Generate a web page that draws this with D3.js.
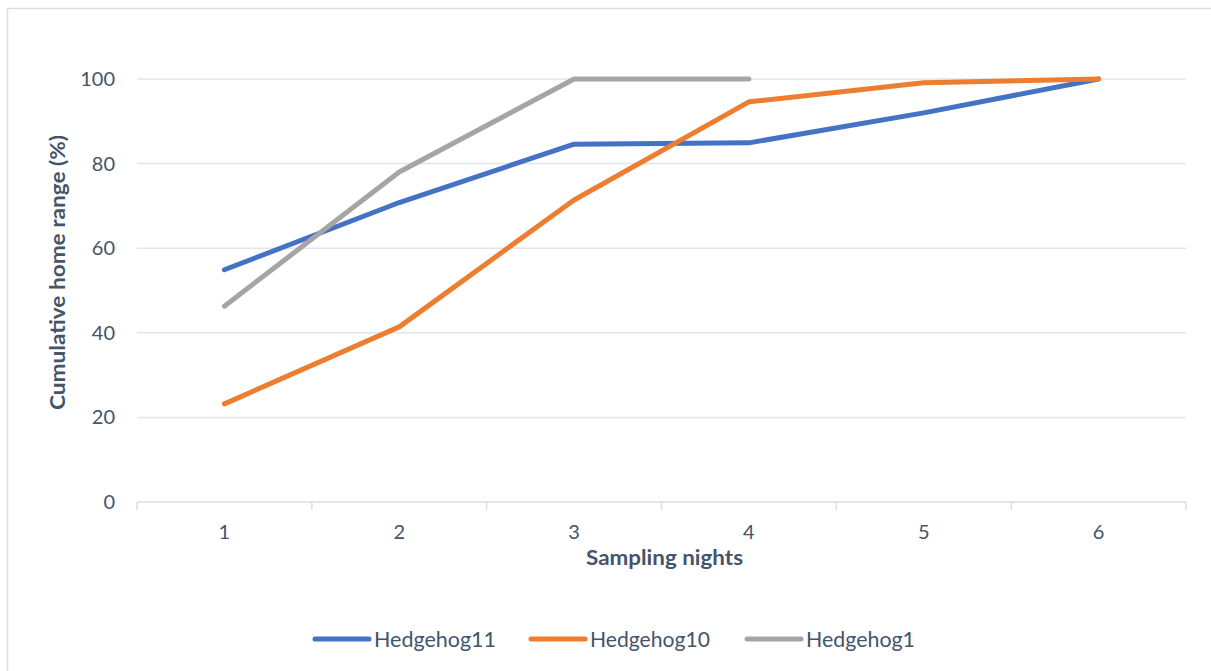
<!DOCTYPE html>
<html>
<head>
<meta charset="utf-8">
<script src="https://cdn.jsdelivr.net/npm/d3@7/dist/d3.min.js"></script>
<style>
  html, body { margin: 0; padding: 0; background: #fff; }
  svg { display: block; }
  text { font-family: Lato, "Open Sans", sans-serif; fill: #44546A; }
</style>
</head>
<body>
<svg id="chart" width="1211" height="671"></svg>
<script>
// Cumulative home range per sampling night
const nights = [1, 2, 3, 4, 5, 6];
const hedgehog11 = [54.9, 70.8, 84.6, 84.9, 92.0, 100];
const hedgehog10 = [23.2, 41.4, 71.4, 94.6, 99.1, 100];
const hedgehog1 = [46.3, 78.0, 100, 100];
const yTicks = [0, 20, 40, 60, 80, 100];

const series = [
  { name: "Hedgehog11", values: hedgehog11, color: "#4472C4" },
  { name: "Hedgehog10", values: hedgehog10, color: "#ED7D31" },
  { name: "Hedgehog1", values: hedgehog1, color: "#A5A5A5" }
];

const svg = d3.select("#chart");
const W = 1211, H = 671;
const plot = { left: 137, right: 1186, top: 37, bottom: 502 };

// outer frame
svg.append("rect")
  .attr("x", 7.5).attr("y", 8.5)
  .attr("width", W + 10).attr("height", H + 10)
  .attr("fill", "none").attr("stroke", "#D9DEE5").attr("stroke-width", 1.5);

const x = d3.scaleBand().domain(nights).range([plot.left, plot.right]).padding(0);
const y = d3.scaleLinear().domain([0, 110]).range([plot.bottom, plot.bottom - 423 * 1.1]);

// horizontal gridlines
svg.append("g").selectAll("line")
  .data(yTicks.filter(d => d > 0))
  .join("line")
  .attr("x1", plot.left).attr("x2", plot.right)
  .attr("y1", d => y(d)).attr("y2", d => y(d))
  .attr("stroke", "#E1E5EA").attr("stroke-width", 1.5);

// y axis labels
const yAxis = d3.axisLeft(y).tickValues(yTicks).tickSize(0).tickPadding(22);
const gy = svg.append("g").attr("transform", `translate(${plot.left},0)`).call(yAxis);
gy.select(".domain").remove();
gy.selectAll("text").style("font-size", "20px").attr("fill", "#44546A")
  .style("font-family", "Lato, sans-serif");

// x axis
const xAxis = d3.axisBottom(x).tickSize(0).tickPadding(23);
const gx = svg.append("g").attr("transform", `translate(0,${plot.bottom})`).call(xAxis);
gx.select(".domain").attr("stroke", "#D9DEE5").attr("stroke-width", 1.5)
  .attr("d", `M${plot.left},0H${plot.right}`);
gx.selectAll("text").style("font-size", "20px").attr("fill", "#44546A")
  .style("font-family", "Lato, sans-serif");
// tick marks between categories
gx.append("g").selectAll("line")
  .data(d3.range(nights.length + 1))
  .join("line")
  .attr("x1", i => plot.left + i * x.step()).attr("x2", i => plot.left + i * x.step())
  .attr("y1", 0).attr("y2", 8)
  .attr("stroke", "#D9DEE5").attr("stroke-width", 1.5);

// axis titles
svg.append("text")
  .attr("x", 586).attr("y", 565)
  .attr("textLength", 157).attr("lengthAdjust", "spacingAndGlyphs")
  .style("font-size", "21px").style("font-weight", "bold")
  .text("Sampling nights");

svg.append("text")
  .attr("transform", `translate(65,410) rotate(-90)`)
  .attr("textLength", 275).attr("lengthAdjust", "spacingAndGlyphs")
  .style("font-size", "21px").style("font-weight", "bold")
  .text("Cumulative home range (%)");

// lines
const line = d3.line()
  .x((d, i) => x(nights[i]) + x.bandwidth() / 2)
  .y(d => y(d));

svg.append("g").selectAll("path")
  .data(series)
  .join("path")
  .attr("d", s => line(s.values))
  .attr("fill", "none")
  .attr("stroke", s => s.color)
  .attr("stroke-width", 5)
  .attr("stroke-linecap", "round")
  .attr("stroke-linejoin", "round");

// legend
const legendX = [315, 531, 747];
const legendW = [122, 120, 109];
const lg = svg.append("g").selectAll("g")
  .data(series)
  .join("g")
  .attr("transform", (s, i) => `translate(${legendX[i]},639)`);
lg.append("line")
  .attr("x1", 0).attr("x2", 54)
  .attr("stroke", s => s.color).attr("stroke-width", 5)
  .attr("stroke-linecap", "round");
lg.append("text")
  .attr("x", 59).attr("y", 8)
  .attr("textLength", (s, i) => legendW[i]).attr("lengthAdjust", "spacingAndGlyphs")
  .style("font-size", "21px")
  .text(s => s.name);
</script>
</body>
</html>
